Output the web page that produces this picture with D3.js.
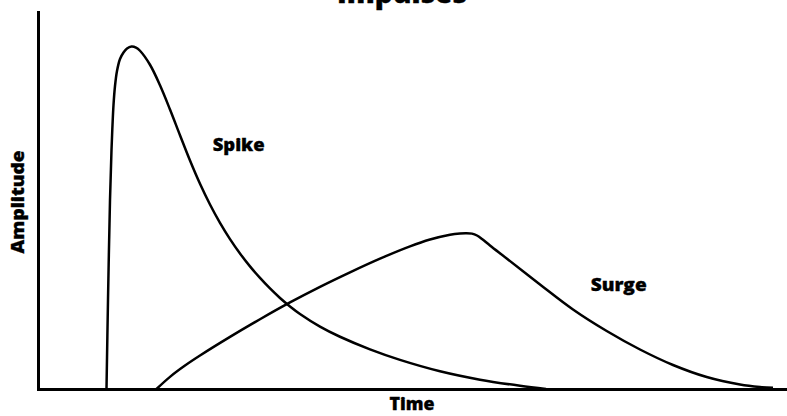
<!DOCTYPE html>
<html>
<head>
<meta charset="utf-8">
<script src="https://cdn.jsdelivr.net/npm/d3@7"></script>
<style>
  html, body { margin: 0; padding: 0; background: #fff; }
  svg { display: block; }
  text { font-family: "Open Sans", Lato, sans-serif; font-weight: 800; fill: #000; stroke: #000; stroke-width: 0.35px; }
</style>
</head>
<body>
<svg id="chart" width="787" height="416"></svg>
<script>
// Spike impulse: very fast rise, long decaying tail (time, amplitude)
const spikeTime = [9.146, 9.346, 9.613, 9.813, 9.947, 10.080, 10.280, 10.547, 10.948, 11.415, 11.883, 12.483, 13.084, 13.618, 14.953, 16.288, 17.623, 18.959, 20.294, 21.629, 22.964, 24.299, 25.634, 26.969, 28.304, 29.639, 30.975, 32.310, 33.645, 34.980, 37.650, 40.320, 44.326, 48.331, 53.672, 59.012, 64.353, 67.824];
const spikeAmp  = [0.00, 23.61, 50.13, 63.40, 70.03, 75.33, 80.37, 84.35, 87.53, 89.26, 90.32, 90.85, 90.58, 89.72, 86.01, 80.57, 74.14, 67.31, 60.61, 54.44, 48.94, 44.07, 39.77, 35.95, 32.53, 29.46, 26.67, 24.15, 21.90, 19.91, 16.56, 13.86, 10.52, 7.73, 4.71, 2.48, 0.85, 0.00];

// Surge impulse: slow rise to a rounded crest, then gradual decay
const surgeTime = [15.821, 17.623, 19.626, 21.629, 25.634, 29.639, 33.645, 37.650, 41.656, 45.661, 49.666, 52.336, 55.007, 56.342, 57.143, 57.944, 58.611, 59.279, 60.347, 62.577, 67.023, 71.429, 75.928, 80.374, 84.780, 89.279, 93.725, 96.395, 98.131];
const surgeAmp  = [0.00, 3.22, 6.21, 8.87, 13.81, 18.50, 22.96, 27.10, 30.95, 34.58, 37.84, 39.64, 40.92, 41.26, 41.33, 41.22, 40.72, 39.79, 38.06, 34.62, 27.72, 21.09, 15.38, 10.48, 6.37, 3.18, 1.19, 0.53, 0.32];

const seriesNames = ["Spike", "Surge"];
const title = "Impulses";
const xTitle = "Time";
const yTitle = "Amplitude";

const svg = d3.select("#chart");
const W = 787, H = 416;
const margin = { left: 38, right: 0, top: 12, bottom: 27 };

const x = d3.scaleLinear().domain([0, 100]).range([margin.left, W - margin.right]);
const y = d3.scaleLinear().domain([0, 100]).range([H - margin.bottom, margin.top]);

// Axes are bare lines without ticks
const styleDomain = g => g.select(".domain")
  .attr("stroke", "#000")
  .attr("stroke-width", 3)
  .attr("stroke-linecap", "square");

svg.append("g")
  .attr("transform", `translate(0,${y(0)})`)
  .call(d3.axisBottom(x).tickValues([]).tickSizeOuter(0))
  .call(styleDomain);

svg.append("g")
  .attr("transform", `translate(${x(0)},0)`)
  .call(d3.axisLeft(y).tickValues([]).tickSizeOuter(0))
  .call(styleDomain);

const line = d3.line()
  .x(d => x(d[0]))
  .y(d => y(d[1]))
  .curve(d3.curveCatmullRom.alpha(0.5));

const series = [d3.zip(spikeTime, spikeAmp), d3.zip(surgeTime, surgeAmp)];

svg.append("g")
  .selectAll("path")
  .data(series)
  .join("path")
  .attr("fill", "none")
  .attr("stroke", "#000")
  .attr("stroke-width", 2.5)
  .attr("stroke-linejoin", "round")
  .attr("d", line);

// Curve labels placed beside each curve (in data coordinates)
const labelAnchors = [
  { t: 23.32, a: 63.1, width: 52 },
  { t: 73.79, a: 26.0, width: 56 }
];

svg.append("g")
  .selectAll("text")
  .data(seriesNames)
  .join("text")
  .attr("x", (d, i) => x(labelAnchors[i].t))
  .attr("y", (d, i) => y(labelAnchors[i].a))
  .attr("font-size", 18)
  .attr("textLength", (d, i) => labelAnchors[i].width)
  .attr("lengthAdjust", "spacingAndGlyphs")
  .text(d => d);

// Chart title, partly above the top edge
svg.append("text")
  .attr("x", 402)
  .attr("y", 3)
  .attr("text-anchor", "middle")
  .attr("font-size", 28)
  .text(title);

svg.append("text")
  .attr("x", 412)
  .attr("y", 410)
  .attr("text-anchor", "middle")
  .attr("font-size", 18)
  .attr("textLength", 45)
  .attr("lengthAdjust", "spacingAndGlyphs")
  .text(xTitle);

svg.append("text")
  .attr("transform", "translate(24,202) rotate(-90)")
  .attr("text-anchor", "middle")
  .attr("font-size", 18)
  .attr("textLength", 103)
  .attr("lengthAdjust", "spacingAndGlyphs")
  .text(yTitle);
</script>
</body>
</html>
